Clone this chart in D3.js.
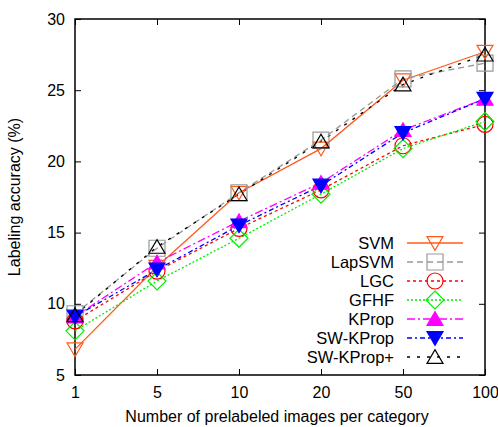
<!DOCTYPE html>
<html>
<head>
<meta charset="utf-8">
<script src="https://cdn.jsdelivr.net/npm/d3@7"></script>
<style>
  body { margin: 0; background: #fff; }
  text { font-family: "Liberation Sans", Arial, sans-serif; }
</style>
</head>
<body>
<div id="chart"></div>
<script>
// data
var categories = ["1", "5", "10", "20", "50", "100"];
var yTicks = [5, 10, 15, 20, 25, 30];

var svm      = [6.8, 12.6, 17.8, 20.9, 25.7, 27.7];
var lapsvm   = [9.3, 13.9, 17.8, 21.5, 25.8, 26.9];
var lgc      = [8.8, 12.3, 15.3, 18.0, 21.1, 22.6];
var gfhf     = [8.1, 11.6, 14.6, 17.7, 20.9, 22.8];
var kprop    = [9.1, 12.9, 15.8, 18.5, 22.2, 24.4];
var swkprop  = [9.1, 12.4, 15.5, 18.3, 22.0, 24.4];
var swkpropP = [9.2, 14.0, 17.7, 21.4, 25.4, 27.5];

var seriesNames = ["SVM", "LapSVM", "LGC", "GFHF", "KProp", "SW-KProp", "SW-KProp+"];
var seriesValues = [svm, lapsvm, lgc, gfhf, kprop, swkprop, swkpropP];

var styles = [
  {color: "#ff5a1a", dash: null,        marker: "tridown", fill: false},
  {color: "#999999", dash: "6,4",       marker: "square",  fill: false},
  {color: "#ff0000", dash: "3,3",       marker: "circle",  fill: false},
  {color: "#00ee00", dash: "2,2",       marker: "diamond", fill: false},
  {color: "#ff00ff", dash: "8,3,2,3",   marker: "triup",   fill: true},
  {color: "#0000ff", dash: "5,3,2,3",   marker: "tridown", fill: true},
  {color: "#000000", dash: "3,7",       marker: "triup",   fill: false}
];

var W = 498, H = 427;
var margin = {top: 19, right: 13, bottom: 52, left: 75};
var width = W - margin.left - margin.right,
    height = H - margin.top - margin.bottom;

var svg = d3.select("#chart").append("svg")
  .attr("width", W).attr("height", H)
  .append("g")
  .attr("transform", "translate(" + margin.left + "," + margin.top + ")");

var x = d3.scalePoint().domain(categories).range([0, width]);
var y = d3.scaleLinear().domain([5, 30]).range([height, 0]);

// axes with inner ticks, mirrored on top/right
var tickLen = 6;
svg.append("g")
  .attr("transform", "translate(0," + height + ")")
  .call(d3.axisBottom(x).tickSizeInner(-tickLen).tickSizeOuter(0).tickPadding(12))
  .call(function(g) { g.select(".domain").remove(); g.selectAll("text").style("font-size", "16px").attr("fill", "#000"); });
svg.append("g")
  .call(d3.axisLeft(y).tickValues(yTicks).tickSizeInner(-tickLen).tickSizeOuter(0).tickPadding(10))
  .call(function(g) { g.select(".domain").remove(); g.selectAll("text").style("font-size", "16px").attr("fill", "#000"); });
svg.append("g")
  .call(d3.axisTop(x).tickSizeInner(-tickLen).tickSizeOuter(0).tickFormat(""))
  .call(function(g) { g.select(".domain").remove(); });
svg.append("g")
  .attr("transform", "translate(" + width + ",0)")
  .call(d3.axisRight(y).tickValues(yTicks).tickSizeInner(-tickLen).tickSizeOuter(0).tickFormat(""))
  .call(function(g) { g.select(".domain").remove(); });

svg.selectAll(".tick line").attr("stroke", "#000").attr("stroke-width", 1);

svg.append("rect")
  .attr("width", width).attr("height", height)
  .attr("fill", "none").attr("stroke", "#000").attr("stroke-width", 1.5);

// axis labels
svg.append("text")
  .attr("x", width / 2 - 3)
  .attr("y", height + 47)
  .attr("text-anchor", "middle")
  .style("font-size", "16px")
  .text("Number of prelabeled images per category");

svg.append("text")
  .attr("transform", "rotate(-90)")
  .attr("x", -height / 2)
  .attr("y", -55)
  .attr("text-anchor", "middle")
  .style("font-size", "16px")
  .text("Labeling accuracy (%)");

// marker shapes
function markerPath(type) {
  var s = 8;
  if (type === "tridown") return "M" + (-s) + "," + (-s * 0.8) + "L" + s + "," + (-s * 0.8) + "L0," + (s * 0.9) + "Z";
  if (type === "triup") return "M" + (-s) + "," + (s * 0.8) + "L" + s + "," + (s * 0.8) + "L0," + (-s * 0.9) + "Z";
  if (type === "square") return "M-8,-8H8V8H-8Z";
  if (type === "diamond") return "M0,-9L9,0L0,9L-9,0Z";
  return null;
}

function drawMarker(g, type, color, filled, cx, cy) {
  if (type === "circle") {
    g.append("circle").attr("cx", cx).attr("cy", cy).attr("r", 8)
      .attr("fill", "none").attr("stroke", color).attr("stroke-width", 1.2);
  } else {
    g.append("path").attr("d", markerPath(type))
      .attr("transform", "translate(" + cx + "," + cy + ")")
      .attr("fill", filled ? color : "none")
      .attr("stroke", color).attr("stroke-width", 1.2);
  }
}

var line = d3.line()
  .x(function(d, i) { return x(categories[i]); })
  .y(function(d) { return y(d); });

seriesValues.forEach(function(vals, k) {
  var st = styles[k];
  svg.append("path")
    .datum(vals)
    .attr("d", line)
    .attr("fill", "none")
    .attr("stroke", st.color)
    .attr("stroke-width", 1.3)
    .attr("stroke-dasharray", st.dash);
});

seriesValues.forEach(function(vals, k) {
  var st = styles[k];
  var g = svg.append("g");
  vals.forEach(function(v, i) {
    drawMarker(g, st.marker, st.color, st.fill, x(categories[i]), y(v));
  });
});

// legend
var legX = 394 - margin.left, legY = 243 - margin.top, step = 19;
seriesNames.forEach(function(name, k) {
  var st = styles[k];
  var yy = legY + k * step;
  svg.append("text")
    .attr("x", legX).attr("y", yy)
    .attr("dy", "0.35em")
    .attr("text-anchor", "end")
    .style("font-size", "16.5px")
    .text(name);
  svg.append("line")
    .attr("x1", legX + 13).attr("x2", legX + 69)
    .attr("y1", yy).attr("y2", yy)
    .attr("stroke", st.color)
    .attr("stroke-width", 1.3)
    .attr("stroke-dasharray", st.dash);
  drawMarker(svg, st.marker, st.color, st.fill, legX + 41, yy);
});
</script>
</body>
</html>
